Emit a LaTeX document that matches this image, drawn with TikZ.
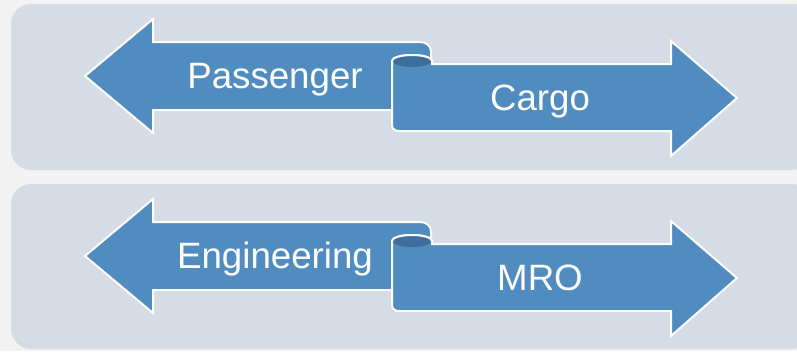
\documentclass[tikz,border=0pt]{standalone}
\usepackage{fontspec}
\setmainfont{Liberation Sans}
\definecolor{bgc}{RGB}{242,242,242}
\definecolor{panelc}{RGB}{214,220,229}
\definecolor{arrowc}{RGB}{81,140,193}
\definecolor{innerc}{RGB}{64,110,156}
\newcommand\duoarrow[5]{%
\begin{scope}[shift={(0,#1)}]
 \path[arrowshape] (85,76) -- (153,19) -- (153,42) -- (420,42) arc[start angle=270,end angle=360,x radius=11,y radius=9] -- (431,110) -- (153,110) -- (153,133) -- cycle;
 \path[arrowshape] (392,61) arc[start angle=180,end angle=360,x radius=20,y radius=6] -- (432,64) -- (671,64) -- (671,41) -- (737,98) -- (671,156) -- (671,131) -- (400,131) .. controls (392,131) and (392,127) .. (392,123) -- cycle;
 \fill[innerc] (412,61) ellipse[x radius=19.5,y radius=6];
 \draw[white,line width=1.5pt] (392,66) -- (392,61) arc[start angle=180,end angle=360,x radius=20,y radius=6] -- (432,64);
 \node[lbl] (#4) at (275,88) {#2};
 \node[lbl] (#5) at (540,110) {#3};
\end{scope}}
\begin{document}
\begin{tikzpicture}[x=0.75pt,y=-0.75pt,
  panel/.style={fill=panelc, rounded corners=15pt},
  arrowshape/.style={fill=arrowc, draw=white, line width=1.5pt, line join=miter},
  lbl/.style={text=white, font=\fontsize{27.5}{30}\selectfont, inner sep=0pt, anchor=base}]
\useasboundingbox (0,0) rectangle (797,351);
\fill[bgc] (0,0) rectangle (797,351);
\begin{scope}
\clip (0,0) rectangle (797,351);
\fill[panel] (11,4) rectangle (812,170);
\fill[panel] (11,184) rectangle (812,349);
\end{scope}
\duoarrow{0}{Passenger}{Cargo}{pass}{cargo}
\duoarrow{180}{Engineering}{MRO}{eng}{mro}
\end{tikzpicture}
\end{document}
